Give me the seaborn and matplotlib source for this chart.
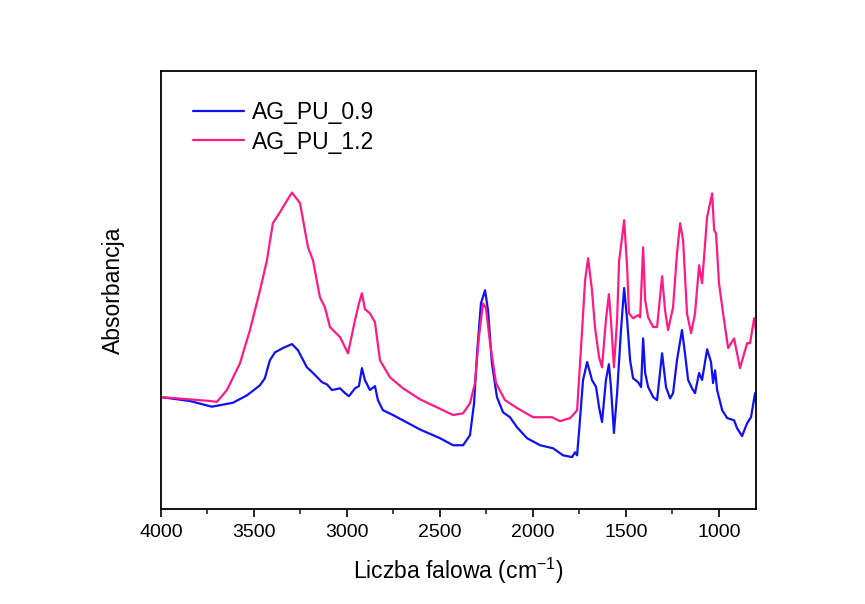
import pandas as pd
import matplotlib.pyplot as plt
import seaborn as sns

# FTIR spectra (wavenumber in cm-1, absorbance in a.u.)
wn_09 = [4000, 3844, 3726, 3613, 3537, 3467, 3441, 3414, 3387, 3344, 3295, 3263,
         3215, 3182, 3134, 3107, 3080, 3037, 3010, 2989, 2956, 2935, 2919, 2903,
         2876, 2849, 2833, 2806, 2752, 2607, 2499, 2429, 2375, 2338, 2316, 2300,
         2279, 2257, 2241, 2220, 2193, 2160, 2123, 2085, 2031, 1961, 1891, 1838,
         1789, 1773, 1762, 1751, 1730, 1708, 1682, 1660, 1644, 1628, 1607, 1591,
         1580, 1564, 1547, 1526, 1509, 1493, 1477, 1461, 1434, 1418, 1407, 1396,
         1380, 1353, 1332, 1305, 1284, 1262, 1246, 1225, 1198, 1182, 1165, 1144,
         1128, 1106, 1090, 1063, 1042, 1031, 1020, 1009, 982, 955, 918, 902, 875,
         848, 827, 805, 800]
ab_09 = [0.256, 0.247, 0.234, 0.243, 0.260, 0.283, 0.299, 0.340, 0.358, 0.368,
         0.377, 0.363, 0.324, 0.311, 0.290, 0.285, 0.272, 0.276, 0.265, 0.258,
         0.276, 0.281, 0.322, 0.295, 0.272, 0.281, 0.249, 0.226, 0.215, 0.182,
         0.162, 0.146, 0.146, 0.169, 0.242, 0.356, 0.470, 0.500, 0.454, 0.333,
         0.256, 0.221, 0.210, 0.187, 0.162, 0.146, 0.139, 0.123, 0.119, 0.130,
         0.123, 0.180, 0.295, 0.336, 0.295, 0.279, 0.233, 0.199, 0.295, 0.331,
         0.279, 0.174, 0.265, 0.409, 0.505, 0.432, 0.340, 0.299, 0.290, 0.279,
         0.390, 0.311, 0.279, 0.256, 0.249, 0.356, 0.279, 0.253, 0.265, 0.340,
         0.409, 0.356, 0.295, 0.276, 0.265, 0.311, 0.295, 0.365, 0.336, 0.288,
         0.317, 0.272, 0.226, 0.208, 0.203, 0.185, 0.167, 0.196, 0.210, 0.265,
         0.244]

wn_12 = [4000, 3736, 3699, 3645, 3575, 3521, 3467, 3430, 3398, 3360, 3322, 3295,
         3252, 3209, 3182, 3145, 3118, 3091, 3037, 2994, 2956, 2935, 2919, 2903,
         2876, 2849, 2822, 2768, 2698, 2607, 2429, 2375, 2338, 2311, 2290, 2268,
         2252, 2230, 2198, 2150, 2085, 1999, 1897, 1854, 1800, 1784, 1762, 1735,
         1719, 1703, 1682, 1666, 1644, 1628, 1607, 1591, 1580, 1564, 1547, 1536,
         1520, 1509, 1493, 1483, 1461, 1434, 1423, 1407, 1396, 1380, 1353, 1332,
         1305, 1289, 1273, 1246, 1225, 1208, 1192, 1171, 1149, 1128, 1106, 1090,
         1063, 1036, 1025, 1015, 999, 977, 950, 918, 886, 848, 832, 810, 800]
ab_12 = [0.256, 0.247, 0.245, 0.272, 0.333, 0.409, 0.500, 0.568, 0.653, 0.678,
         0.705, 0.723, 0.699, 0.598, 0.568, 0.484, 0.461, 0.416, 0.393, 0.356,
         0.432, 0.470, 0.493, 0.457, 0.447, 0.427, 0.340, 0.301, 0.276, 0.251,
         0.215, 0.219, 0.242, 0.288, 0.393, 0.470, 0.459, 0.379, 0.288, 0.249,
         0.231, 0.210, 0.210, 0.201, 0.208, 0.215, 0.226, 0.409, 0.523, 0.573,
         0.500, 0.416, 0.347, 0.324, 0.432, 0.491, 0.432, 0.324, 0.432, 0.568,
         0.621, 0.660, 0.553, 0.447, 0.436, 0.443, 0.438, 0.598, 0.477, 0.438,
         0.416, 0.416, 0.532, 0.454, 0.409, 0.461, 0.584, 0.653, 0.614, 0.447,
         0.402, 0.447, 0.557, 0.516, 0.667, 0.721, 0.637, 0.630, 0.516, 0.447,
         0.368, 0.390, 0.322, 0.379, 0.379, 0.436, 0.409]

labels = ["AG_PU_0.9", "AG_PU_1.2"]
colors = ["#1010f5", "#ff1a85"]

df = pd.concat([
    pd.DataFrame({"wn": wn_09, "A": ab_09, "sample": labels[0]}),
    pd.DataFrame({"wn": wn_12, "A": ab_12, "sample": labels[1]}),
])

sns.set_style("ticks")
plt.rcParams["font.family"] = ["Liberation Sans", "DejaVu Sans"]
plt.rcParams["mathtext.fontset"] = "custom"
plt.rcParams["mathtext.rm"] = "Liberation Sans"
plt.rcParams["mathtext.it"] = "Liberation Sans"
plt.rcParams["text.color"] = "black"
plt.rcParams["axes.labelcolor"] = "black"

fig = plt.figure(figsize=(8.65, 6.04), dpi=100)
ax = fig.add_axes([0.186, 0.157, 0.688, 0.725])

sns.lineplot(data=df, x="wn", y="A", hue="sample", palette=colors,
             sort=False, estimator=None, linewidth=1.6, ax=ax)

ax.set_xlim(4000, 800)
ax.set_ylim(0, 1)
ax.set_xticks([4000, 3500, 3000, 2500, 2000, 1500, 1000])
ax.set_xticks([3750, 3250, 2750, 2250, 1750, 1250], minor=True)
ax.set_yticks([])
ax.tick_params(axis="x", which="major", direction="out", length=6, width=1.2,
               labelsize=14, colors="black", pad=5)
ax.tick_params(axis="x", which="minor", direction="out", length=3.5, width=1.2)
for s in ax.spines.values():
    s.set_linewidth(1.3)
    s.set_color("black")

ax.set_xlabel(r"Liczba falowa (cm$^{-1}$)", fontsize=16.5, labelpad=10)
ax.set_ylabel("Absorbancja", fontsize=16.5, labelpad=26)

ax.legend(loc="upper left", frameon=False, fontsize=16.5, handlelength=2.2,
          handletextpad=0.35, labelspacing=0.28,
          bbox_to_anchor=(0.02, 0.979))

fig.savefig("out.png", dpi=100)
